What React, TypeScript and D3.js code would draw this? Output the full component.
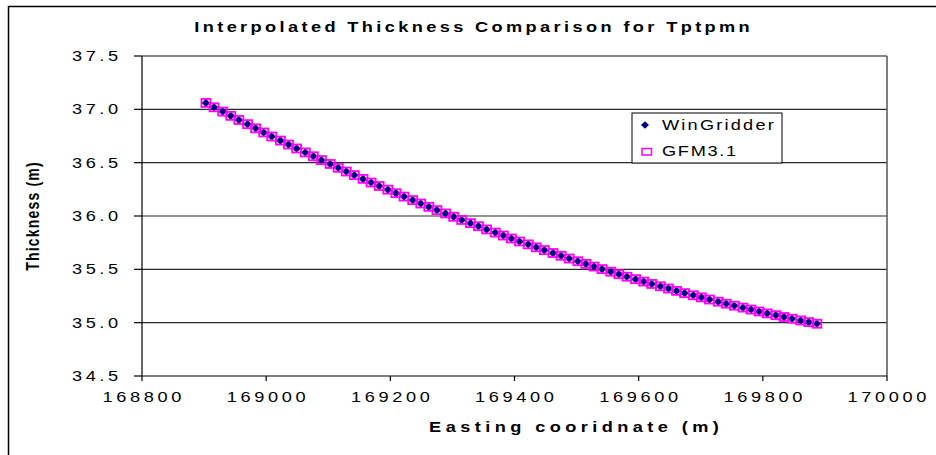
import React from "react";
import * as d3 from "d3";

const chartTitle = "Interpolated Thickness Comparison for Tptpmn";
const xAxisTitle = "Easting cooridnate (m)";
const yAxisTitle = "Thickness (m)";
const seriesNames = ["WinGridder", "GFM3.1"];

const xTicks = [168800, 169000, 169200, 169400, 169600, 169800, 170000];
const yTicks = [34.5, 35.0, 35.5, 36.0, 36.5, 37.0, 37.5];

const easting = [
  168903, 168916, 168930, 168943, 168956, 168970, 168983, 168996, 169009, 169023,
  169036, 169049, 169063, 169076, 169089, 169103, 169116, 169129, 169142, 169156,
  169169, 169182, 169196, 169209, 169222, 169236, 169249, 169262, 169275, 169289,
  169302, 169315, 169329, 169342, 169355, 169369, 169382, 169395, 169408, 169422,
  169435, 169448, 169462, 169475, 169488, 169502, 169515, 169528, 169541, 169555,
  169568, 169581, 169595, 169608, 169621, 169635, 169648, 169661, 169674, 169688,
  169701, 169714, 169728, 169741, 169754, 169768, 169781, 169794, 169807, 169821,
  169834, 169847, 169861, 169874, 169887,
];

const winGridder = [
  37.060, 37.019, 36.979, 36.939, 36.900, 36.861, 36.822, 36.783, 36.745, 36.707,
  36.670, 36.633, 36.596, 36.560, 36.524, 36.488, 36.452, 36.417, 36.383, 36.348,
  36.314, 36.281, 36.247, 36.214, 36.182, 36.149, 36.117, 36.086, 36.055, 36.024,
  35.993, 35.963, 35.933, 35.904, 35.874, 35.845, 35.817, 35.789, 35.761, 35.734,
  35.706, 35.680, 35.653, 35.627, 35.601, 35.576, 35.551, 35.526, 35.502, 35.478,
  35.454, 35.431, 35.408, 35.385, 35.363, 35.341, 35.320, 35.298, 35.277, 35.257,
  35.237, 35.217, 35.197, 35.178, 35.159, 35.141, 35.123, 35.105, 35.087, 35.070,
  35.053, 35.037, 35.021, 35.005, 34.990,
];

const gfm31 = [
  37.060, 37.019, 36.979, 36.939, 36.900, 36.861, 36.822, 36.783, 36.745, 36.707,
  36.670, 36.633, 36.596, 36.560, 36.524, 36.488, 36.452, 36.417, 36.383, 36.348,
  36.314, 36.281, 36.247, 36.214, 36.182, 36.149, 36.117, 36.086, 36.055, 36.024,
  35.993, 35.963, 35.933, 35.904, 35.874, 35.845, 35.817, 35.789, 35.761, 35.734,
  35.706, 35.680, 35.653, 35.627, 35.601, 35.576, 35.551, 35.526, 35.502, 35.478,
  35.454, 35.431, 35.408, 35.385, 35.363, 35.341, 35.320, 35.298, 35.277, 35.257,
  35.237, 35.217, 35.197, 35.178, 35.159, 35.141, 35.123, 35.105, 35.087, 35.070,
  35.053, 35.037, 35.021, 35.005, 34.990,
];

const W = 936;
const H = 455;
const PL = 142;
const PR = 887;
const PT = 56;
const PB = 376;
const SX = 1.3;
const FONT = "'Liberation Sans', Arial, sans-serif";

type TProps = {
  x: number;
  y: number;
  anchor?: "start" | "middle" | "end";
  size: number;
  weight?: string;
  spacing: number;
  children: React.ReactNode;
};

function SText({ x, y, anchor = "start", size, weight = "normal", spacing, children }: TProps) {
  const shift = anchor === "end" ? spacing * SX : anchor === "middle" ? (spacing * SX) / 2 : 0;
  return (
    <text
      transform={`translate(${x + shift},${y}) scale(${SX},1)`}
      textAnchor={anchor}
      fontSize={size}
      fontWeight={weight}
      letterSpacing={spacing}
      fontFamily={FONT}
      fill="#000"
    >
      {children}
    </text>
  );
}

export default function App() {
  const x = d3.scaleLinear().domain([168800, 170000]).range([PL, PR]);
  const y = d3.scaleLinear().domain([34.5, 37.5]).range([PB, PT]);
  const fmtY = d3.format(".1f");
  const diamond = "M0,-3.8L4,0L0,3.8L-4,0Z";

  return (
    <svg
      width={W}
      height={H}
      style={{ position: "absolute", left: 0, top: 0, background: "#fff" }}
    >
      <rect x={0} y={0} width={W} height={H} fill="#fff" />
      <rect x={8.5} y={6.5} width={W + 20} height={H + 20} fill="none" stroke="#000" strokeWidth={1.5} />

      <SText x={472} y={32} anchor="middle" size={14} weight="bold" spacing={2.6}>
        {chartTitle}
      </SText>

      {yTicks.slice(1, -1).map((t) => (
        <line key={"g" + t} x1={PL} x2={PR} y1={y(t)} y2={y(t)} stroke="#2a2a2a" strokeWidth={1.2} />
      ))}
      <line x1={PL} x2={PR} y1={PT} y2={PT} stroke="#111" strokeWidth={1.2} />
      <line x1={PR} x2={PR} y1={PT} y2={PB} stroke="#555" strokeWidth={1.5} />

      <line x1={PL} x2={PL} y1={PT} y2={PB} stroke="#000" strokeWidth={1.2} />
      <line x1={PL} x2={PR} y1={PB} y2={PB} stroke="#000" strokeWidth={1.2} />
      {yTicks.map((t) => (
        <g key={"y" + t}>
          <line x1={PL - 8} x2={PL} y1={y(t)} y2={y(t)} stroke="#000" strokeWidth={1.2} />
          <SText x={118} y={y(t) + 5} anchor="end" size={14} spacing={2.7}>
            {fmtY(t)}
          </SText>
        </g>
      ))}
      {xTicks.map((t) => (
        <g key={"x" + t}>
          <line x1={x(t)} x2={x(t)} y1={PB} y2={PB + 5} stroke="#000" strokeWidth={1.2} />
          <SText x={x(t)} y={402} anchor="middle" size={14} spacing={2.8}>
            {String(t)}
          </SText>
        </g>
      ))}

      <SText x={574} y={432} anchor="middle" size={14} weight="bold" spacing={3.4}>
        {xAxisTitle}
      </SText>
      <text
        transform={`translate(39,${(PT + PB) / 2}) scale(${SX},1) rotate(-90)`}
        textAnchor="middle"
        fontSize={14}
        fontWeight="bold"
        letterSpacing={1.2}
        fontFamily={FONT}
      >
        {yAxisTitle}
      </text>

      <g>
        {easting.map((e, i) => (
          <path
            key={"w" + i}
            d={diamond}
            transform={`translate(${x(e)},${y(winGridder[i])})`}
            fill="#000080"
            stroke="#000080"
            strokeWidth={0.6}
          />
        ))}
      </g>
      <g>
        {easting.map((e, i) => (
          <rect
            key={"m" + i}
            x={x(e) - 4.5}
            y={y(gfm31[i]) - 4}
            width={9}
            height={8}
            fill="none"
            stroke="#ff00ff"
            strokeWidth={1.8}
          />
        ))}
      </g>

      <rect x={632} y={113} width={150} height={50} fill="#fff" stroke="#000" strokeWidth={1} />
      <path d={diamond} transform="translate(645,125)" fill="#000080" />
      <SText x={662} y={130} size={14} spacing={1.7}>
        {seriesNames[0]}
      </SText>
      <rect x={642} y={148.5} width={9.5} height={6.5} fill="none" stroke="#ff00ff" strokeWidth={1.5} />
      <SText x={662} y={156} size={14} spacing={1.3}>
        {seriesNames[1]}
      </SText>
    </svg>
  );
}
